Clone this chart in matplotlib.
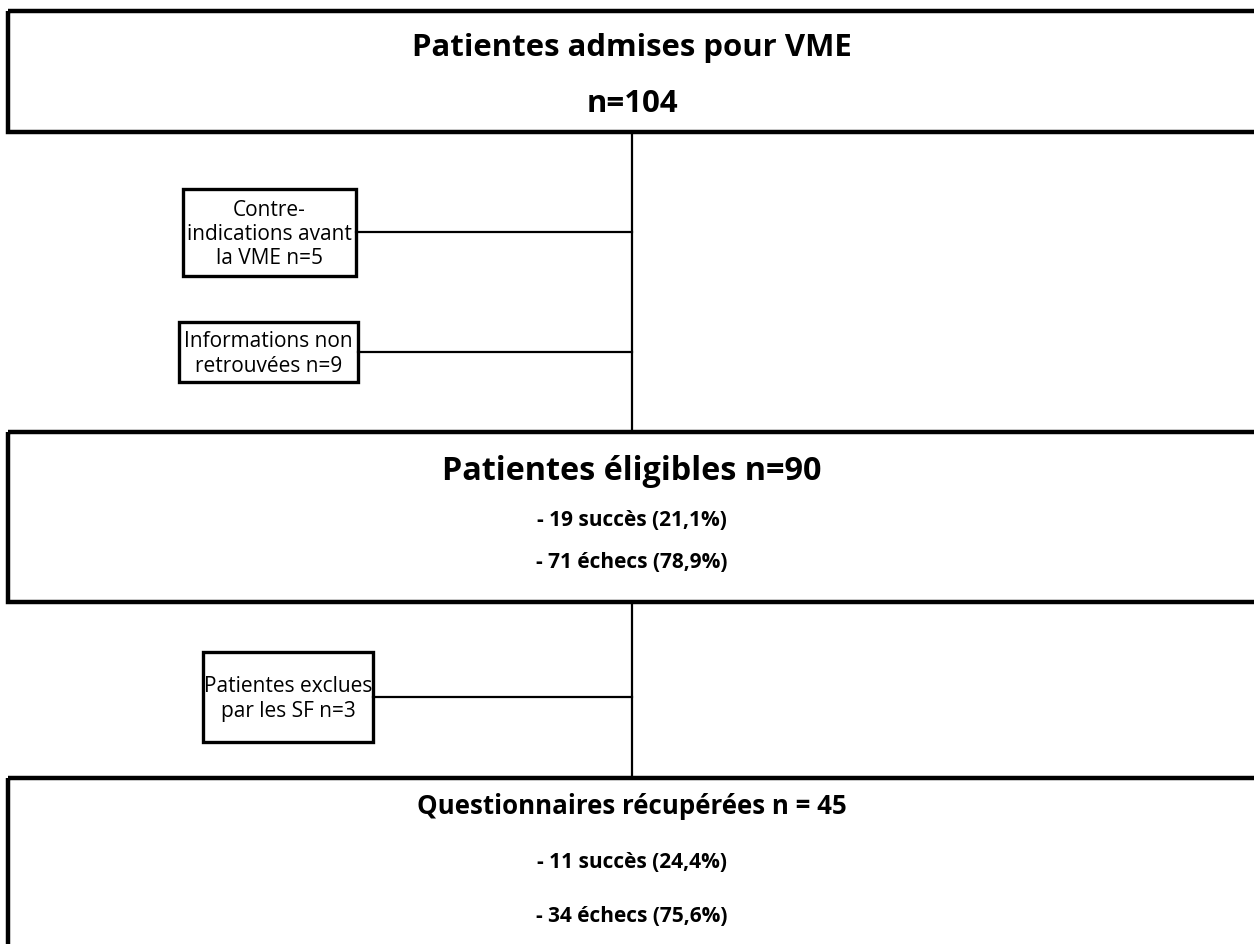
import matplotlib
matplotlib.use('Agg')
import matplotlib.pyplot as plt
from matplotlib.patches import Rectangle

plt.rcParams['font.family'] = ['Open Sans', 'DejaVu Sans']

# flowchart content
main_titles = ['Patientes admises pour VME', 'Patientes éligibles n=90',
               'Questionnaires récupérées n = 45']
main_counts = ['n=104', '', '']
main_details = [[], ['- 19 succès (21,1%)', '- 71 échecs (78,9%)'],
                ['- 11 succès (24,4%)', '- 34 échecs (75,6%)']]
side_labels = ['Contre-\nindications avant\nla VME n=5',
               'Informations non\nretrouvées n=9',
               'Patientes exclues\npar les SF n=3']

W, H = 1254, 945
fig = plt.figure(figsize=(W / 100, H / 100), dpi=100)
ax = fig.add_axes([0, 0, 1, 1])
ax.set_xlim(0, W)
ax.set_ylim(H, 0)
ax.axis('off')

cx = 632

# main boxes (x0, y0, y1), running past the right edge
main_boxes = [(8, 12, 133), (8, 433, 603), (8, 779, 990)]
for (x0, y0, y1) in main_boxes:
    ax.add_patch(Rectangle((x0, y0), W + 50 - x0, y1 - y0, fill=False,
                           lw=3.2, ec='black', clip_on=True))

# vertical connectors
ax.plot([cx, cx], [133, 433], color='black', lw=1.6)
ax.plot([cx, cx], [603, 779], color='black', lw=1.6)

# side boxes (x0, x1, y0, y1, y of the link)
side_boxes = [(183, 356, 190, 277, 233),
              (179, 358, 323, 383, 353),
              (203, 373, 653, 743, 698)]
for (x0, x1, y0, y1, ly), lab in zip(side_boxes, side_labels):
    ax.add_patch(Rectangle((x0, y0), x1 - x0, y1 - y0, fill=False,
                           lw=2.4, ec='black'))
    ax.plot([x1, cx], [ly, ly], color='black', lw=1.6)
    ax.text((x0 + x1) / 2, (y0 + y1) / 2 + 1, lab, ha='center', va='center',
            fontsize=15, linespacing=1.2)

# main box texts
ax.text(cx, 48, main_titles[0], ha='center', va='center',
        fontsize=22.4, fontweight='bold')
ax.text(cx, 104, main_counts[0], ha='center', va='center',
        fontsize=22.4, fontweight='bold')

ax.text(cx, 471, main_titles[1], ha='center', va='center',
        fontsize=23.3, fontweight='bold')
for y, s in zip([521, 563], main_details[1]):
    ax.text(cx, y, s, ha='center', va='center', fontsize=15,
            fontweight='bold')

ax.text(cx, 807, main_titles[2], ha='center', va='center',
        fontsize=18.6, fontweight='bold')
for y, s in zip([862, 916], main_details[2]):
    ax.text(cx, y, s, ha='center', va='center', fontsize=15,
            fontweight='bold')

fig.savefig('out.png', dpi=100)
